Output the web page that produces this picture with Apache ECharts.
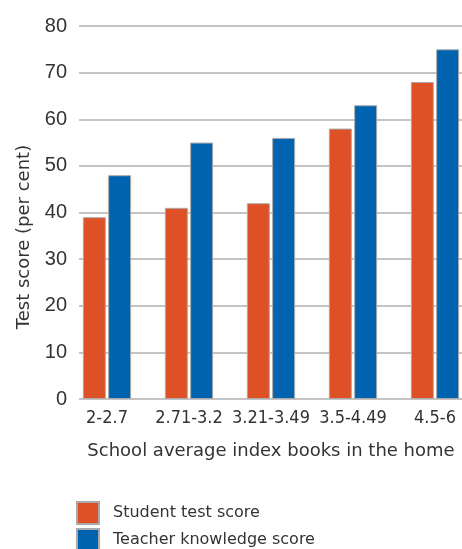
<!DOCTYPE html>
<html>
<head>
<meta charset="utf-8">
<script src="https://cdn.jsdelivr.net/npm/echarts@6/dist/echarts.min.js"></script>
<style>
  html, body { margin: 0; padding: 0; background: #fff; }
  #chart { width: 462px; height: 549px; }
</style>
</head>
<body>
<div id="chart"></div>
<script>
// data
var categories = ['2-2.7', '2.71-3.2', '3.21-3.49', '3.5-4.49', '4.5-6'];
var studentScore = [39, 41, 42, 58, 68];
var teacherScore = [48, 55, 56, 63, 75];
var yTicks = { min: 0, max: 80, interval: 10 };

var orange = '#DE5126';
var blue = '#0063B0';
var font = 'Liberation Sans, Arial, sans-serif';
var wide = 'DejaVu Sans, sans-serif';
var narrow = 'Liberation Sans Narrow, DejaVu Sans Condensed, Arial Narrow, sans-serif';

var chart = echarts.init(document.getElementById('chart'));

function legendAt(top, name) {
  return {
    orient: 'vertical',
    left: 76,
    top: top,
    padding: 0,
    itemWidth: 22,
    itemHeight: 22,
    icon: 'rect',
    textStyle: { fontFamily: wide, fontSize: 16, color: '#333', padding: [0, 0, 0, 9] },
    data: [name]
  };
}

var option = {
  animation: false,
  // grid 0 : gridlines + y labels, grid 1 : the bars
  grid: [
    { left: 79, right: 0, top: 26, bottom: 150, outerBoundsMode: 'none' },
    { left: 66, width: 410, top: 26, bottom: 150, outerBoundsMode: 'none' }
  ],
  legend: [
    legendAt(501, 'Student test score'),
    legendAt(528, 'Teacher knowledge score')
  ],
  xAxis: [
    {
      gridIndex: 0, type: 'category', data: categories, show: false
    },
    {
      gridIndex: 1,
      type: 'category',
      data: categories,
      axisLine: { show: false },
      axisTick: { show: false },
      axisLabel: { fontFamily: narrow, fontSize: 18, color: '#333', margin: 10, interval: 0 },
      name: 'School average index books in the home',
      nameLocation: 'middle',
      nameGap: 43,
      nameTextStyle: { fontFamily: wide, fontSize: 18, color: '#333' }
    }
  ],
  yAxis: [
    {
      gridIndex: 0,
      type: 'value',
      min: yTicks.min, max: yTicks.max, interval: yTicks.interval,
      axisLine: { show: false },
      axisTick: { show: false },
      axisLabel: { fontFamily: font, fontSize: 20, color: '#333', margin: 12 },
      splitLine: { lineStyle: { color: '#b0b0b0', width: 1.5 } }
    },
    {
      gridIndex: 1,
      type: 'value',
      min: yTicks.min, max: yTicks.max, interval: yTicks.interval,
      show: false,
      splitLine: { show: false }
    }
  ],
  graphic: [
    {
      type: 'text',
      x: 24, y: 237,
      rotation: Math.PI / 2,
      style: {
        text: 'Test score (per cent)',
        fontFamily: wide, fontSize: 18, fill: '#333',
        align: 'center', verticalAlign: 'middle'
      }
    }
  ],
  series: [
    {
      name: 'Student test score',
      type: 'bar',
      xAxisIndex: 1, yAxisIndex: 1,
      data: studentScore,
      barWidth: 23,
      barGap: '10%',
      itemStyle: { color: orange, borderColor: '#aaa', borderWidth: 1 }
    },
    {
      name: 'Teacher knowledge score',
      type: 'bar',
      xAxisIndex: 1, yAxisIndex: 1,
      data: teacherScore,
      barWidth: 23,
      barGap: '10%',
      itemStyle: { color: blue, borderColor: '#aaa', borderWidth: 1 }
    }
  ]
};

chart.setOption(option);
</script>
</body>
</html>
